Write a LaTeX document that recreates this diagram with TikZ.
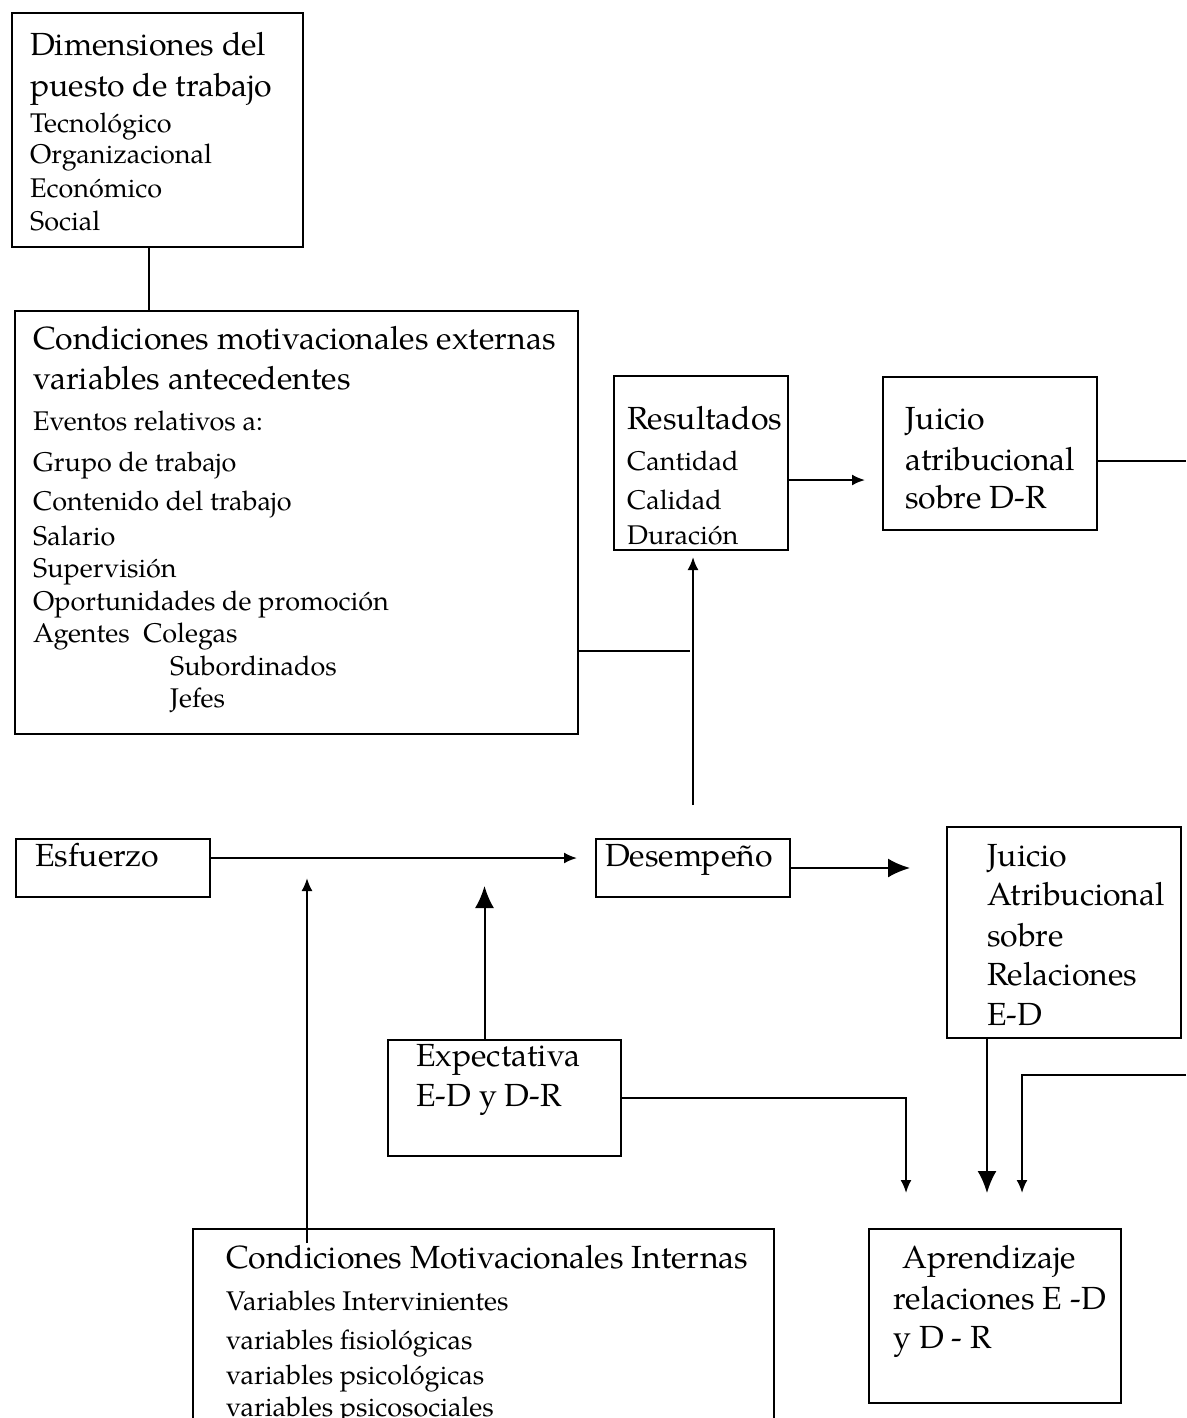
\documentclass[tikz,border=0pt]{standalone}
\usepackage{fontspec}
\setmainfont{TeX Gyre Pagella}
\usetikzlibrary{arrows.meta}

\tikzstyle{box}=[draw,line width=2pt,rectangle,anchor=north west,inner sep=0pt]
\tikzstyle{edge}=[draw,line width=2pt,-]
\tikzstyle{arrow}=[edge,-{Latex[length=13pt,width=11pt]}]
\tikzstyle{bigarrow}=[edge,-{Latex[length=22pt,width=19pt]}]
\tikzstyle{bigtext}=[anchor=base west,inner sep=0pt,font=\fontsize{32}{40}\selectfont]
\tikzstyle{smalltext}=[anchor=base west,inner sep=0pt,font=\fontsize{27}{33}\selectfont]

\begin{document}
\begin{tikzpicture}[x=1pt, y=-1pt]
    \useasboundingbox (0,0) rectangle (1186,1418);
    % First we draw the boxes
    \foreach \pos/\w/\h/\name in {{(11,12)/291/234/dim}, {(14,310)/563/423/ext}, {(613,375)/174/174/res},
            {(882,376)/214/153/jua}, {(15,838)/194/58/esf}, {(595,838)/194/58/des}, {(946,826)/234/211/jub},
            {(387,1039)/233/116/exp}, {(192,1228)/581/220/int}, {(868,1228)/252/174/apr}}
        \node[box, minimum width=\w pt, minimum height=\h pt] (\name) at \pos {};

    % Then the texts, line by line
    \foreach \y/\t [count=\i] in {56/Dimensiones del, 97/puesto de trabajo}
        \node[bigtext] (dim-t\i) at (30,\y) {\t};
    \foreach \y/\t [count=\i] in {132/Tecnológico, 164/Organizacional, 197/Económico, 230/Social}
        \node[smalltext] (dim-s\i) at (30,\y) {\t};

    \foreach \y/\t [count=\i] in {349/Condiciones motivacionales externas, 389/variables antecedentes}
        \node[bigtext] (ext-t\i) at (33,\y) {\t};
    \foreach \y/\t [count=\i] in {430/Eventos relativos a:, 471/Grupo de trabajo, 510/Contenido del trabajo,
            545/Salario, 577/Supervisión, 610/Oportunidades de promoción, 642/Agentes~~Colegas}
        \node[smalltext] (ext-s\i) at (33,\y) {\t};
    \foreach \y/\t [count=\i] in {675/Subordinados, 707/Jefes}
        \node[smalltext] (ext-a\i) at (170,\y) {\t};

    \node[bigtext] (res-t) at (627,429) {Resultados};
    \foreach \y/\t [count=\i] in {470/Cantidad, 509/Calidad, 544/Duración}
        \node[smalltext] (res-s\i) at (627,\y) {\t};

    \foreach \y/\t [count=\i] in {429/Juicio, 470/atribucional, 508/sobre D-R}
        \node[bigtext] (jua-t\i) at (905,\y) {\t};

    \node[bigtext] (esf-t) at (35,866) {Esfuerzo};
    \node[bigtext] (des-t) at (605,866) {Desempeño};

    \foreach \y/\t [count=\i] in {866/Juicio, 905/Atribucional, 946/sobre, 985/Relaciones, 1025/E-D}
        \node[bigtext] (jub-t\i) at (987,\y) {\t};

    \foreach \y/\t [count=\i] in {1066/Expectativa, 1106/E-D y D-R}
        \node[bigtext] (exp-t\i) at (416,\y) {\t};

    \node[bigtext] (int-t) at (226,1268) {Condiciones Motivacionales Internas};
    \foreach \y/\t [count=\i] in {1310/Variables Intervinientes, 1349/variables fisiológicas,
            1384/variables psicológicas, 1416/variables psicosociales}
        \node[smalltext] (int-s\i) at (226,\y) {\t};

    \node[bigtext] (apr-t1) at (902,1268) {Aprendizaje};
    \foreach \y/\t [count=\i] in {1309/relaciones E -D, 1348/y D - R}
        \node[bigtext] (apr-t\i) at (893,\y) {\t};

    % Connect boxes with lines and arrows
    \coordinate (jn) at (690,651);
    \coordinate (rt1) at (1186,461);
    \coordinate (rt2) at (1186,1075);
    \path[edge] ([xshift=-9pt]dim.south) -- ([xshift=-9pt]dim.south |- ext.north);
    \path[edge] (jn -| ext.east) -- (jn);
    \path[arrow, shorten >=6pt] ([yshift=33pt]des.north) -- (des.north |- res.south);
    \path[arrow, shorten >=17pt] ([yshift=-17pt]res.east) -- ([yshift=-17pt]res.east -| jua.west);
    \path[edge] (jua.east |- rt1) -- (rt1);
    \path[arrow, shorten >=18pt] ([yshift=10pt]esf.east) -- ([yshift=10pt]esf.east -| des.west);
    \path[bigarrow, shorten >=36pt] (des.east) -- (des.east -| jub.west);
    \path[bigarrow, shorten >=18pt] ([xshift=-20pt]exp.north) -- ([xshift=-20pt]exp.north |- esf.east);
    \path[arrow, shorten >=10pt] ([xshift=115pt,yshift=-15pt]int.north west) -- ([xshift=115pt]int.north west |- esf.east);
    \path[arrow, shorten >=35pt] (exp.east) -| ([xshift=38pt]apr.north west);
    \path[bigarrow, shorten >=35pt] ([xshift=41pt]jub.south west) -- ([xshift=41pt]jub.south west |- apr.north);
    \path[arrow, shorten >=35pt] (rt2) -| ([xshift=154pt]apr.north west);
\end{tikzpicture}
\end{document}
